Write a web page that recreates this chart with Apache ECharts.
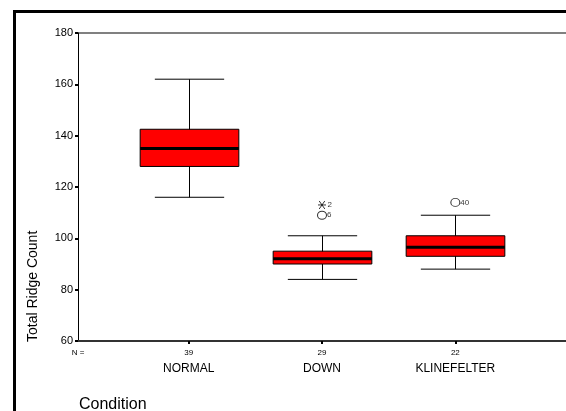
<!DOCTYPE html>
<html>
<head>
<meta charset="utf-8">
<script src="https://cdn.jsdelivr.net/npm/echarts@6/dist/echarts.min.js"></script>
<style>
html,body{margin:0;padding:0;background:#fff;overflow:hidden;}
#wrap{position:relative;width:566px;height:411px;overflow:hidden;}
#c{position:absolute;left:0;top:0;width:566px;height:411px;}
#frame{position:absolute;left:13px;top:10px;width:600px;height:500px;border-left:3px solid #000;border-top:3px solid #000;pointer-events:none;}
</style>
</head>
<body>
<div id="wrap"><div id="c"></div><div id="frame"></div></div>
<script>
const categories = ['NORMAL', 'DOWN', 'KLINEFELTER'];
const counts = [39, 29, 22];
const whiskerLow = [116, 84, 88];
const q1 = [128, 90, 93];
const median = [135, 92, 96.5];
const q3 = [142.5, 95, 101];
const whiskerHigh = [162, 101, 109];
const outlierCategory = ['DOWN', 'DOWN', 'KLINEFELTER'];
const outlierValue = [113, 109, 114];
const outlierLabel = ['2', '6', '40'];
const outlierType = ['extreme', 'outlier', 'outlier'];
const yTicks = [60, 80, 100, 120, 140, 160, 180];

const FONT = "'Liberation Sans', Arial, sans-serif";
const xMin = 0.17, xMax = 3.83;

const boxData = categories.map((c, i) => [i + 1, whiskerLow[i], q1[i], median[i], q3[i], whiskerHigh[i]]);
const circleData = [], starData = [];
outlierValue.forEach((v, i) => {
  const item = { value: [categories.indexOf(outlierCategory[i]) + 1, v], name: outlierLabel[i] };
  (outlierType[i] === 'extreme' ? starData : circleData).push(item);
});

const chart = echarts.init(document.getElementById('c'), null, { renderer: 'canvas' });
chart.setOption({
  animation: false,
  backgroundColor: '#fff',
  textStyle: { fontFamily: FONT },
  grid: { left: 78, right: -6, top: 33, bottom: 70 },
  xAxis: {
    type: 'value', min: xMin, max: xMax,
    splitLine: { show: false },
    axisLine: { show: true, onZero: false, lineStyle: { color: '#333', width: 2 } },
    axisTick: { show: true, customValues: [1, 2, 3], length: 3, inside: false, lineStyle: { color: '#000', width: 2 } },
    axisLabel: {
      customValues: [xMin, 1, 2, 3],
      showMinLabel: true, showMaxLabel: true,
      margin: 5,
      formatter: function (v) {
        if (v < 0.5) return '{n|N =}\n{c| }';
        const i = Math.round(v) - 1;
        return '{n|' + counts[i] + '}\n{c|' + categories[i] + '}';
      },
      rich: {
        n: { fontSize: 8, lineHeight: 14, color: '#000', fontFamily: FONT },
        c: { fontSize: 12, lineHeight: 18, color: '#000', fontFamily: FONT }
      }
    }
  },
  yAxis: {
    type: 'value', min: 60, max: 180, interval: 20,
    splitLine: { show: false },
    axisLine: { show: true, lineStyle: { color: '#000', width: 1 } },
    axisTick: { show: true, length: 3, lineStyle: { color: '#000', width: 2 } },
    axisLabel: { fontSize: 11, color: '#000', margin: 5, fontFamily: FONT, customValues: yTicks }
  },
  graphic: [
    { type: 'line', shape: { x1: 78, y1: 33, x2: 566, y2: 33 }, style: { stroke: '#808080', lineWidth: 2 } },
    { type: 'text', x: 33, y: 342, rotation: Math.PI / 2,
      style: { text: 'Total Ridge Count', fontSize: 14, fontFamily: FONT, fill: '#000', align: 'left', verticalAlign: 'middle' } },
    { type: 'text', x: 79, y: 397,
      style: { text: 'Condition', fontSize: 16, fontFamily: FONT, fill: '#000', align: 'left', verticalAlign: 'top' } }
  ],
  series: [
    {
      type: 'custom',
      data: boxData,
      encode: { x: 0, y: [1, 2, 3, 4, 5] },
      renderItem: function (params, api) {
        const x = api.value(0);
        const unit = api.size([1, 0])[0];
        const bw = unit * 0.74, cw = unit * 0.52;
        const pLow = api.coord([x, api.value(1)]);
        const pQ1 = api.coord([x, api.value(2)]);
        const pMed = api.coord([x, api.value(3)]);
        const pQ3 = api.coord([x, api.value(4)]);
        const pHigh = api.coord([x, api.value(5)]);
        const cx = Math.round(pLow[0]) + 0.5;
        const line = (x1, y1, x2, y2, w) => ({ type: 'line', shape: { x1, y1, x2, y2 }, style: { stroke: '#000', lineWidth: w || 1 } });
        return {
          type: 'group',
          children: [
            line(cx, pLow[1], cx, pHigh[1]),
            line(cx - cw / 2, pLow[1], cx + cw / 2, pLow[1]),
            line(cx - cw / 2, pHigh[1], cx + cw / 2, pHigh[1]),
            { type: 'rect', shape: { x: cx - bw / 2, y: pQ3[1], width: bw, height: pQ1[1] - pQ3[1] },
              style: { fill: '#ff0000', stroke: '#000', lineWidth: 1 } },
            line(cx - bw / 2, pMed[1], cx + bw / 2, pMed[1], 3)
          ]
        };
      },
      z: 3
    },
    {
      type: 'scatter',
      data: circleData,
      symbol: 'circle', symbolSize: [9, 8],
      itemStyle: { color: '#fff', borderColor: '#000', borderWidth: 1 },
      label: { show: true, position: 'right', distance: 0, formatter: '{b}', fontSize: 8, color: '#000', fontFamily: FONT },
      z: 4
    },
    {
      type: 'scatter',
      data: starData,
      symbol: 'path://M0,5 L10,5 M1.5,1.5 L8.5,8.5 M8.5,1.5 L1.5,8.5',
      symbolSize: 8,
      itemStyle: { color: 'none', borderColor: '#000', borderWidth: 1 },
      label: { show: true, position: 'right', distance: -1, formatter: '{b}', fontSize: 8, color: '#000', fontFamily: FONT },
      z: 4
    }
  ]
});
</script>
</body>
</html>
